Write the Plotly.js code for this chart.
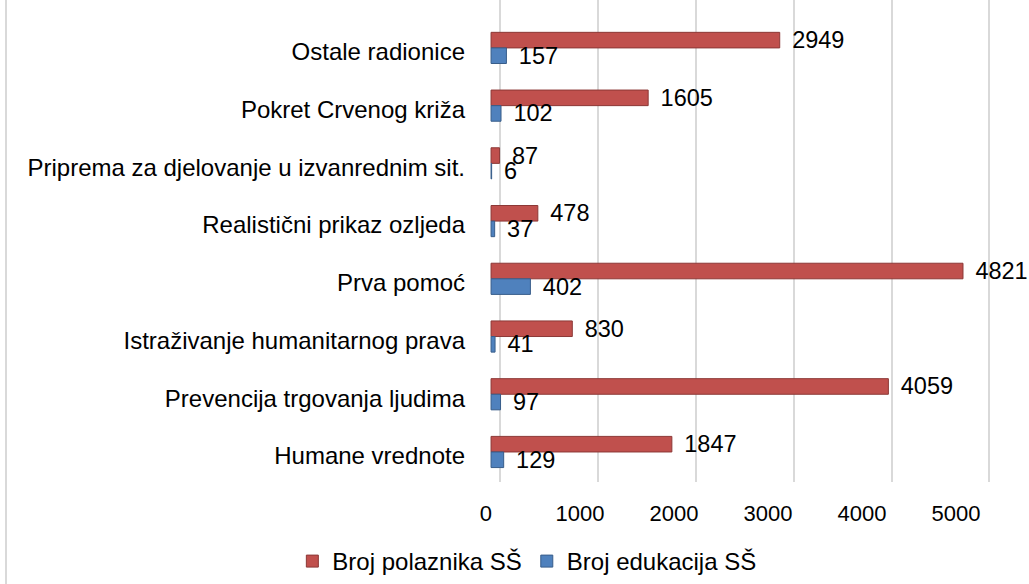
<!DOCTYPE html>
<html><head><meta charset="utf-8">
<script src="https://cdn.plot.ly/plotly-3.0.1.min.js"></script>
<style>html,body{margin:0;padding:0;background:#fff}#c{width:1029px;height:584px}</style>
</head><body><div id="c"></div>
<script>
const categories = ["Ostale radionice","Pokret Crvenog križa","Priprema za djelovanje u izvanrednim sit.","Realistični prikaz ozljeda","Prva pomoć","Istraživanje humanitarnog prava","Prevencija trgovanja ljudima","Humane vrednote"];
const polaznici = [2949,1605,87,478,4821,830,4059,1847];
const edukacije = [157,102,6,37,402,41,97,129];
const xTicks = [0,1000,2000,3000,4000,5000];

const fam = '"Liberation Sans", Arial, sans-serif';
const font = {family:fam, size:24, color:'#000'};
const labelFont = {family:fam, size:23.5, color:'#000'};
const pad = '\u2009\u2009';
const traces = [
 {type:'bar', orientation:'h', name:'Broj polaznika SŠ', y:categories, x:polaznici,
  marker:{color:'#C0504D', line:{color:'#8C3836', width:1}},
  text:polaznici.map(v => pad + v), textposition:'outside', cliponaxis:false, constraintext:'none',
  textfont:labelFont},
 {type:'bar', orientation:'h', name:'Broj edukacija SŠ', y:categories, x:edukacije,
  marker:{color:'#4F81BD', line:{color:'#385D8A', width:1}},
  text:edukacije.map(v => pad + v), textposition:'outside', cliponaxis:false, constraintext:'none',
  textfont:labelFont},
 // invisible helpers so that the grid axis and the tick-label axis are drawn
 {type:'scatter', mode:'none', x:xTicks, y:xTicks.map(() => categories[0]), xaxis:'x2', yaxis:'y',
  showlegend:false, hoverinfo:'skip'},
 {type:'scatter', mode:'none', x:xTicks, y:xTicks.map(() => categories[0]), xaxis:'x3', yaxis:'y',
  showlegend:false, hoverinfo:'skip'}
];
// plot area spans 484..995 px (511 px)
const layout = {
 width:1029, height:584, margin:{l:484, r:34, t:0, b:102},
 paper_bgcolor:'#fff', plot_bgcolor:'rgba(0,0,0,0)', font:font,
 barmode:'group', bargap:0.46, bargroupgap:0,
 xaxis:{range:[-72,5148], showgrid:false, zeroline:false, showline:false, ticks:'',
   showticklabels:false, automargin:false},
 xaxis2:{overlaying:'x', anchor:'y', range:[-163,5057], tickvals:xTicks, showgrid:true,
   gridcolor:'#D9D9D9', gridwidth:2, zeroline:false, showline:false, ticks:'',
   showticklabels:false, automargin:false, layer:'below traces'},
 xaxis3:{overlaying:'x', anchor:'y', range:[-21,5415], tickvals:xTicks, ticktext:xTicks.map(String),
   showgrid:false, zeroline:false, showline:false, ticks:'', tickfont:{family:fam, size:22, color:'#000'},
   ticklabelstandoff:16, automargin:false},
 yaxis:{type:'category', range:[7.52,-0.83], showgrid:false, zeroline:false, showline:false,
   ticks:'', ticklabelstandoff:18, ticklabelshift:-4, tickfont:font, automargin:false},
 showlegend:true,
 legend:{orientation:'h', x:0.512, xanchor:'center', xref:'container', y:-0.015, yanchor:'bottom', yref:'container',
   font:font, tracegroupgap:0},
 shapes:[{type:'line', xref:'paper', yref:'paper', x0:-478/511, x1:-478/511, y0:-0.3, y1:1.05,
   line:{color:'#D9D9D9', width:2}}]
};
Plotly.newPlot('c', traces, layout, {displayModeBar:false, staticPlot:true});
</script></body></html>
